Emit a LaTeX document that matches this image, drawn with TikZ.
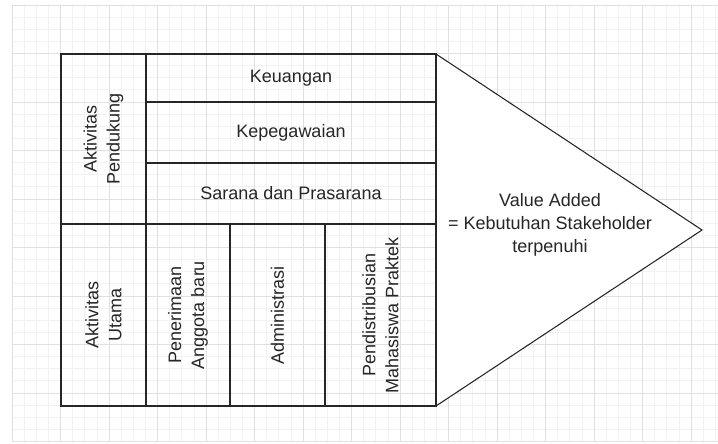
\documentclass[tikz,border=0pt]{standalone}
\usepackage{fontspec}
\setmainfont{Liberation Sans}

\begin{document}
\begin{tikzpicture}[
    x=0.75pt, y=-0.75pt,
    every node/.style={align=center, font=\fontsize{13.5}{17.25}\selectfont, text=black!85},
    cell/.style={rectangle, draw=black!85, line width=0.8pt, inner sep=0pt, outer sep=0pt},
    rotcell/.style={cell, rotate=90},
    arrowhead/.style={draw=black!85, fill=white, line width=0.8pt, line join=miter},
    minorline/.style={draw=black!5, line width=0.6pt},
    majorline/.style={draw=black!12, line width=0.75pt}
]

% --- Fondo y cuadricula
\fill[white] (0,0) rectangle (718,443);
\useasboundingbox (0,0) rectangle (718,443);
\foreach \i in {0,...,58}
    \draw[minorline] (12.1+12.125*\i,5) -- (12.1+12.125*\i,442);
\foreach \j in {0,...,36}
    \draw[minorline] (12.1,5+12.125*\j) -- (718,5+12.125*\j);
\foreach \i in {0,...,14}
    \draw[majorline] (12.1+48.5*\i,5) -- (12.1+48.5*\i,442);
\foreach \j in {0,...,9}
    \draw[majorline] (12.1,5+48.5*\j) -- (718,5+48.5*\j);

% --- Punta de flecha (valor)
\coordinate (tip) at (702,230);
\draw[arrowhead] (436,54) -- (tip) -- (436,406) -- cycle;
\node (value) at (550,225) {Value Added\\= Kebutuhan Stakeholder\\terpenuhi};

% --- Aktivitas pendukung
\node[rotcell, minimum width=170*0.75pt, minimum height=85*0.75pt] (pendukung) at (103.5,139) {Aktivitas\\Pendukung};
\node[cell, minimum width=290*0.75pt, minimum height=48*0.75pt] (keuangan) at (291,78) {Keuangan};
\node[cell, minimum width=290*0.75pt, minimum height=61*0.75pt] (kepegawaian) at (291,132.5) {Kepegawaian};
\node[cell, minimum width=290*0.75pt, minimum height=61*0.75pt] (sarana) at (291,193.5) {Sarana dan Prasarana};

% --- Aktivitas utama
\node[rotcell, minimum width=182*0.75pt, minimum height=85*0.75pt] (utama) at (103.5,315) {Aktivitas\\Utama};
\node[rotcell, minimum width=182*0.75pt, minimum height=84*0.75pt] (penerimaan) at (188,315) {Penerimaan\\Anggota baru};
\node[rotcell, minimum width=182*0.75pt, minimum height=95*0.75pt] (administrasi) at (277.5,315) {Administrasi};
\node[rotcell, minimum width=182*0.75pt, minimum height=111*0.75pt] (distribusi) at (380.5,315) {Pendistribusian\\Mahasiswa Praktek};

\end{tikzpicture}
\end{document}
